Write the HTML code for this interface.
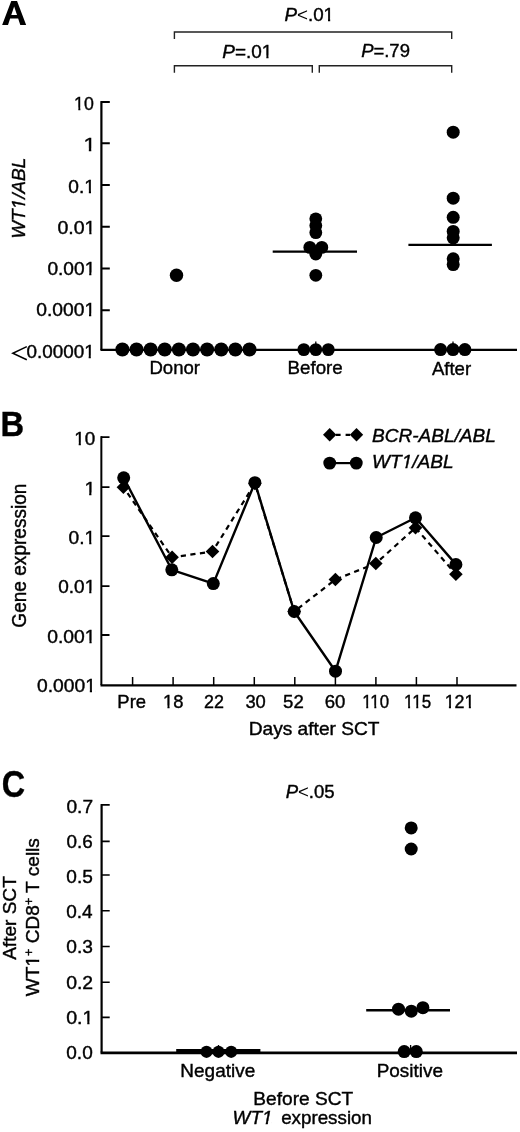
<!DOCTYPE html>
<html><head><meta charset="utf-8">
<style>
html,body{margin:0;padding:0;background:#fff;width:520px;height:1132px;overflow:hidden;}
svg{display:block;will-change:transform;}
text{font-family:"Liberation Sans",sans-serif;fill:#000;stroke:#000;stroke-width:0.4px;font-size:18.5px;}
.b{font-weight:bold;font-size:35px;}
.i{font-style:italic;}
.n0{stroke-width:0;}
</style></head>
<body>
<svg width="520" height="1132" viewBox="0 0 520 1132">
<!-- ===== PANEL A ===== -->
<path fill-rule="evenodd" fill="#000" d="M2.15,24.9 L11.25,0.9 L17.05,0.9 L26.15,24.9 L20.3,24.9 L18.16,18.5 L10.14,18.5 L8,24.9 Z M14.15,6.5 L17.02,15.1 L11.28,15.1 Z"/>
<g stroke="#222" stroke-width="1.4" fill="none">
<path d="M174.4,39 V32 H451.7 V39"/>
<path d="M174.4,72.8 V65.7 H312.3 V72.8"/>
<path d="M319.3,72.8 V65.7 H451.7 V72.8"/>
</g>
<g stroke="#000" fill="none" stroke-width="2.2">
<path d="M101.4,101.1 V350"/>
<path d="M100.5,349.9 H517"/>
</g>
<g stroke="#000" fill="none" stroke-width="2">
<path d="M101,102.1 H109.8 M101,143.2 H109.8 M101,185 H109.8 M101,226.8 H109.8 M101,268.4 H109.8 M101,310.3 H109.8"/>

</g>
<polyline points="26.8,346.6 12.8,353.2 26.8,359.8" fill="none" stroke="#000" stroke-width="1.5"/>
<g fill="#000">
<circle cx="122.40" cy="349.5" r="7.05"/><circle cx="136.52" cy="349.5" r="7.05"/><circle cx="150.64" cy="349.5" r="7.05"/><circle cx="164.76" cy="349.5" r="7.05"/><circle cx="178.88" cy="349.5" r="7.05"/><circle cx="193.00" cy="349.5" r="7.05"/><circle cx="207.12" cy="349.5" r="7.05"/><circle cx="221.24" cy="349.5" r="7.05"/><circle cx="235.36" cy="349.5" r="7.05"/><circle cx="249.48" cy="349.5" r="7.05"/>
<circle cx="176.5" cy="275.2" r="6.7"/>
<circle cx="315.8" cy="218.8" r="6.4"/><circle cx="315.8" cy="225.6" r="6.4"/><circle cx="315.8" cy="232.6" r="6.4"/>
<circle cx="309.8" cy="247.4" r="6.4"/><circle cx="321.8" cy="247.4" r="6.4"/><circle cx="315.8" cy="254" r="6.4"/>
<circle cx="315.8" cy="275.3" r="6.4"/>
<circle cx="303.8" cy="349.6" r="6.4"/><circle cx="315.8" cy="349.6" r="6.4"/><circle cx="328.3" cy="349.6" r="6.4"/>
<circle cx="453.2" cy="132.2" r="6.5"/><circle cx="453.2" cy="198.2" r="6.5"/><circle cx="453.2" cy="217.3" r="6.5"/>
<circle cx="453.2" cy="231.4" r="6.5"/><circle cx="453.2" cy="237.8" r="6.5"/><circle cx="453.2" cy="258.8" r="6.5"/>
<circle cx="453.2" cy="264.6" r="6.5"/>
<circle cx="440.6" cy="349.6" r="6.5"/><circle cx="453" cy="349.6" r="6.5"/><circle cx="464.9" cy="349.6" r="6.5"/>
</g>
<g stroke="#000" fill="none" stroke-width="2.3">
<path d="M272.7,251.6 H357"/>
<path d="M408.4,244.8 H491.9"/>
</g>
<g stroke="#000" fill="none" stroke-width="1.3"><path d="M315.8,349 V341.5 M453,349 V341.5 M218.5,1052 V1045 M410.6,1052 V1045"/></g>
<!-- ===== PANEL B ===== -->
<g stroke="#000" fill="none" stroke-width="2">
<path d="M101.35,436.2 V685"/>
<path d="M100.5,685.4 H516.5" stroke-width="2.4"/>
</g>
<g stroke="#000" fill="none" stroke-width="1.8">
<path d="M101,437.1 H109.5 M101,487.2 H109.5 M101,536.1 H109.5 M101,586.2 H109.5 M101,635 H109.5"/>
</g>
<g stroke="#000" fill="none" stroke-width="1.5">
<path d="M132.6,685 V677 M173.1,685 V677 M213.7,685 V677 M254.3,685 V677 M294.8,685 V677 M335.4,685 V677 M375.9,685 V677 M416.4,685 V677 M457,685 V677"/>
</g>
<polyline fill="none" stroke="#000" stroke-width="2.2" stroke-dasharray="5.2 4.45" stroke-dashoffset="2.45" stroke-linejoin="round" points="123.4,487.3 172.1,557.3 212.5,551.5 254.9,483.5 294.2,611.5 335.4,579.5 375.8,563.5 415.5,527.7 455.9,574.3"/>
<polyline fill="none" stroke="#000" stroke-width="2.4" stroke-linejoin="round" points="123.7,477.8 171.8,569.8 213.3,583.6 254.9,482.7 294.2,611.5 335.5,671.2 376.2,537.5 415.5,517.8 455.9,564.4"/>
<g fill="#000">
<path d="M0,-6.8 L6.8,0 L0,6.8 L-6.8,0 Z" transform="translate(123.4,487.3)"/>
<path d="M0,-6.8 L6.8,0 L0,6.8 L-6.8,0 Z" transform="translate(172.1,557.3)"/>
<path d="M0,-6.8 L6.8,0 L0,6.8 L-6.8,0 Z" transform="translate(212.5,551.5)"/>
<path d="M0,-6.8 L6.8,0 L0,6.8 L-6.8,0 Z" transform="translate(254.9,483.5)"/>
<path d="M0,-6.8 L6.8,0 L0,6.8 L-6.8,0 Z" transform="translate(294.2,611.5)"/>
<path d="M0,-6.8 L6.8,0 L0,6.8 L-6.8,0 Z" transform="translate(335.4,579.5)"/>
<path d="M0,-6.8 L6.8,0 L0,6.8 L-6.8,0 Z" transform="translate(375.8,563.5)"/>
<path d="M0,-6.8 L6.8,0 L0,6.8 L-6.8,0 Z" transform="translate(415.5,527.7)"/>
<path d="M0,-6.8 L6.8,0 L0,6.8 L-6.8,0 Z" transform="translate(455.9,574.3)"/>
<circle cx="123.7" cy="477.8" r="6.5"/><circle cx="171.8" cy="569.8" r="6.5"/><circle cx="213.3" cy="583.6" r="6.5"/>
<circle cx="254.9" cy="482.7" r="6.5"/><circle cx="294.2" cy="611.5" r="6.5"/><circle cx="335.5" cy="671.2" r="6.5"/>
<circle cx="376.2" cy="537.5" r="6.5"/><circle cx="415.5" cy="517.8" r="6.5"/><circle cx="455.9" cy="564.5" r="6.5"/>
</g>
<g fill="#000">
<path d="M0,-6.7 L6.7,0 L0,6.7 L-6.7,0 Z" transform="translate(329.7,434.8)"/>
<path d="M0,-6.7 L6.7,0 L0,6.7 L-6.7,0 Z" transform="translate(356.5,434.8)"/>
<circle cx="329.7" cy="463.1" r="6.4"/><circle cx="356.3" cy="463.1" r="6.4"/>
</g>
<g stroke="#000" fill="none" stroke-width="2.2">
<path d="M336,434.8 H340.6 M345.6,434.8 H350"/>
<path d="M330,463.1 H356"/>
</g>
<!-- ===== PANEL C ===== -->
<g stroke="#000" fill="none" stroke-width="2.2">
<path d="M101.6,804.1 V1052.5"/>
</g>
<g stroke="#000" fill="none" stroke-width="2.6">
<path d="M100.5,1052.9 H517"/>
</g>
<g stroke="#000" fill="none" stroke-width="1.6">
<path d="M101,804.9 H109.7 M101,841.4 H109.7 M101,875 H109.7 M101,910.7 H109.7 M101,946.5 H109.7 M101,982.2 H109.7 M101,1017.4 H109.7"/>

</g>
<g stroke="#000" fill="none" stroke-width="3">
<path d="M176.2,1050.5 H260.4"/>
</g>
<g stroke="#000" fill="none" stroke-width="2.4">
<path d="M366.2,1010.2 H450"/>
</g>
<g fill="#000">
<circle cx="206.5" cy="1051.8" r="6.1"/><circle cx="218.5" cy="1051.8" r="6.1"/><circle cx="231.2" cy="1051.8" r="6.1"/>
<circle cx="411.2" cy="827.9" r="6.5"/><circle cx="411.2" cy="849" r="6.5"/>
<circle cx="398.5" cy="1009.2" r="6.5"/><circle cx="411.3" cy="1011.2" r="6.5"/><circle cx="422.9" cy="1007.7" r="6.5"/>
<circle cx="404.2" cy="1051.6" r="6.5"/><circle cx="416.3" cy="1051.6" r="6.5"/>
</g>
<text id="t_B" class="b" textLength="23.61" lengthAdjust="spacingAndGlyphs" x="0.60" y="436.00">B</text>
<text id="t_C" class="b" style="font-size:36.5px" textLength="23.37" lengthAdjust="spacingAndGlyphs" x="1.87" y="797.00">C</text>
<text id="t_Pt" textLength="49.57" lengthAdjust="spacingAndGlyphs" x="284.44" y="21.00"><tspan class="i">P</tspan><tspan class="n0">&lt;</tspan>.01</text>
<text id="t_P1" textLength="50.05" lengthAdjust="spacingAndGlyphs" x="222.33" y="58.00"><tspan class="i">P</tspan>=.01</text>
<text id="t_P2" textLength="48.80" lengthAdjust="spacingAndGlyphs" x="361.13" y="57.00"><tspan class="i">P</tspan>=.79</text>
<text id="t_a10" textLength="19.71" lengthAdjust="spacingAndGlyphs" x="74.10" y="110.00">10</text>
<text id="t_a1" textLength="12.33" lengthAdjust="spacingAndGlyphs" x="83.50" y="151.00">1</text>
<text id="t_a01" textLength="26.61" lengthAdjust="spacingAndGlyphs" x="68.31" y="193.00">0.1</text>
<text id="t_a001" textLength="38.08" lengthAdjust="spacingAndGlyphs" x="57.43" y="234.00">0.01</text>
<text id="t_a0001" textLength="47.86" lengthAdjust="spacingAndGlyphs" x="47.42" y="275.00">0.001</text>
<text id="t_a00001" textLength="58.94" lengthAdjust="spacingAndGlyphs" x="36.24" y="316.00">0.0001</text>
<text id="t_a000001" textLength="68.15" lengthAdjust="spacingAndGlyphs" x="26.50" y="358.00">0.00001</text>
<text id="t_aylab" class="i" textLength="80.93" lengthAdjust="spacingAndGlyphs" transform="translate(25.00,238.77) rotate(-90)">WT1/ABL</text>
<text id="t_donor" textLength="50.58" lengthAdjust="spacingAndGlyphs" x="149.40" y="374.00">Donor</text>
<text id="t_before" textLength="55.21" lengthAdjust="spacingAndGlyphs" x="287.59" y="374.00">Before</text>
<text id="t_after" textLength="39.22" lengthAdjust="spacingAndGlyphs" x="431.88" y="375.00">After</text>
<text id="t_b10" textLength="20.98" lengthAdjust="spacingAndGlyphs" x="74.20" y="445.00">10</text>
<text id="t_b1" textLength="11.07" lengthAdjust="spacingAndGlyphs" x="84.41" y="495.00">1</text>
<text id="t_b01" textLength="26.67" lengthAdjust="spacingAndGlyphs" x="68.64" y="544.00">0.1</text>
<text id="t_b001" textLength="37.01" lengthAdjust="spacingAndGlyphs" x="58.28" y="593.00">0.01</text>
<text id="t_b0001" textLength="48.32" lengthAdjust="spacingAndGlyphs" x="47.24" y="643.00">0.001</text>
<text id="t_b00001" textLength="58.89" lengthAdjust="spacingAndGlyphs" x="37.06" y="692.00">0.0001</text>
<text id="t_xPre" textLength="28.68" lengthAdjust="spacingAndGlyphs" x="117.36" y="708.00">Pre</text>
<text id="t_x18" textLength="20.41" lengthAdjust="spacingAndGlyphs" x="163.07" y="708.00">18</text>
<text id="t_x22" textLength="19.92" lengthAdjust="spacingAndGlyphs" x="204.04" y="708.00">22</text>
<text id="t_x30" textLength="20.43" lengthAdjust="spacingAndGlyphs" x="245.41" y="708.00">30</text>
<text id="t_x52" textLength="20.69" lengthAdjust="spacingAndGlyphs" x="283.04" y="708.00">52</text>
<text id="t_x60" textLength="20.70" lengthAdjust="spacingAndGlyphs" x="324.74" y="708.00">60</text>
<text id="t_x110" textLength="26.79" lengthAdjust="spacingAndGlyphs" x="362.25" y="708.00">110</text>
<text id="t_x115" textLength="27.00" lengthAdjust="spacingAndGlyphs" x="404.09" y="708.00">115</text>
<text id="t_x121" textLength="29.91" lengthAdjust="spacingAndGlyphs" x="444.64" y="708.00">121</text>
<text id="t_days" textLength="130.83" lengthAdjust="spacingAndGlyphs" x="248.68" y="735.00">Days after SCT</text>
<text id="t_gene" style="font-size:19.5px" textLength="144.14" lengthAdjust="spacingAndGlyphs" transform="translate(26.00,627.69) rotate(-90)">Gene expression</text>
<text id="t_lg1" class="i" textLength="123.91" lengthAdjust="spacingAndGlyphs" x="371.98" y="442.00">BCR-ABL/ABL</text>
<text id="t_lg2" class="i" textLength="81.66" lengthAdjust="spacingAndGlyphs" x="372.01" y="468.00">WT1/ABL</text>
<text id="t_c07" textLength="26.57" lengthAdjust="spacingAndGlyphs" x="66.45" y="813.00">0.7</text>
<text id="t_c06" textLength="26.21" lengthAdjust="spacingAndGlyphs" x="66.45" y="848.00">0.6</text>
<text id="t_c05" textLength="26.49" lengthAdjust="spacingAndGlyphs" x="66.36" y="883.00">0.5</text>
<text id="t_c04" textLength="26.38" lengthAdjust="spacingAndGlyphs" x="66.28" y="918.00">0.4</text>
<text id="t_c03" textLength="26.65" lengthAdjust="spacingAndGlyphs" x="66.29" y="953.00">0.3</text>
<text id="t_c02" textLength="26.97" lengthAdjust="spacingAndGlyphs" x="66.18" y="989.00">0.2</text>
<text id="t_c01" textLength="27.28" lengthAdjust="spacingAndGlyphs" x="66.20" y="1024.00">0.1</text>
<text id="t_c00" textLength="26.45" lengthAdjust="spacingAndGlyphs" x="66.29" y="1059.00">0.0</text>
<text id="t_Pc" textLength="49.04" lengthAdjust="spacingAndGlyphs" x="285.65" y="798.00"><tspan class="i">P</tspan><tspan class="n0">&lt;</tspan>.05</text>
<text id="t_neg" textLength="74.83" lengthAdjust="spacingAndGlyphs" x="180.39" y="1077.00">Negative</text>
<text id="t_pos" textLength="66.26" lengthAdjust="spacingAndGlyphs" x="376.73" y="1077.00">Positive</text>
<text id="t_bsct" textLength="99.79" lengthAdjust="spacingAndGlyphs" x="253.39" y="1105.00">Before SCT</text>
<text id="t_wt1e" class="i" textLength="40.02" lengthAdjust="spacingAndGlyphs" x="232.62" y="1124.00">WT1</text>
<text id="t_expr" textLength="90.80" lengthAdjust="spacingAndGlyphs" x="281.15" y="1124.00">expression</text>
<text id="t_asct" textLength="83.64" lengthAdjust="spacingAndGlyphs" transform="translate(16.00,959.86) rotate(-90)">After SCT</text>
<text id="t_wcd8" textLength="158.12" lengthAdjust="spacingAndGlyphs" transform="translate(39.00,996.19) rotate(-90)">WT1<tspan dy="-6.5" font-size="12">+</tspan><tspan dy="6.5"> CD8</tspan><tspan dy="-6.5" font-size="12">+</tspan><tspan dy="6.5"> T cells</tspan></text>
<g fill="#fff"><polygon points="324.00,22.40 328.03,22.40 328.03,18.62 324.00,18.62"/><polygon points="330.19,22.40 333.99,22.40 333.99,18.62 330.19,18.62"/></g>
<g fill="#fff"><polygon points="262.26,59.40 266.33,59.40 266.33,55.62 262.26,55.62"/><polygon points="268.51,59.40 272.33,59.40 272.33,55.62 268.51,55.62"/></g>
<g fill="#fff"><polygon points="74.45,111.40 78.31,111.40 78.31,107.62 74.45,107.62"/><polygon points="80.37,111.40 83.99,111.40 83.99,107.62 80.37,107.62"/></g>
<g fill="#fff"><polygon points="84.19,152.40 88.82,152.40 88.82,148.62 84.19,148.62"/><polygon points="91.28,152.40 95.64,152.40 95.64,148.62 91.28,148.62"/></g>
<g fill="#fff"><polygon points="84.72,194.40 88.83,194.40 88.83,190.62 84.72,190.62"/><polygon points="91.02,194.40 94.88,194.40 94.88,190.62 91.02,190.62"/></g>
<g fill="#fff"><polygon points="85.10,235.40 89.28,235.40 89.28,231.62 85.10,231.62"/><polygon points="91.50,235.40 95.43,235.40 95.43,231.62 91.50,231.62"/></g>
<g fill="#fff"><polygon points="85.09,276.40 89.19,276.40 89.19,272.62 85.09,272.62"/><polygon points="91.38,276.40 95.24,276.40 95.24,272.62 91.38,272.62"/></g>
<g fill="#fff"><polygon points="84.91,317.40 89.03,317.40 89.03,313.62 84.91,313.62"/><polygon points="91.24,317.40 95.11,317.40 95.11,313.62 91.24,313.62"/></g>
<g fill="#fff"><polygon points="84.59,359.40 88.65,359.40 88.65,355.62 84.59,355.62"/><polygon points="90.81,359.40 94.62,359.40 94.62,355.62 90.81,355.62"/></g>
<g fill="#fff" transform="translate(25.00,238.77) rotate(-90)"><polygon points="28.60,1.40 32.67,1.40 33.42,-2.38 29.35,-2.38"/><polygon points="34.84,1.40 38.15,1.40 38.91,-2.38 35.59,-2.38"/></g>
<g fill="#fff"><polygon points="74.64,446.40 78.69,446.40 78.69,442.62 74.64,442.62"/><polygon points="80.86,446.40 84.67,446.40 84.67,442.62 80.86,442.62"/></g>
<g fill="#fff"><polygon points="84.92,496.40 89.16,496.40 89.16,492.62 84.92,492.62"/><polygon points="91.42,496.40 95.40,496.40 95.40,492.62 91.42,492.62"/></g>
<g fill="#fff"><polygon points="85.09,545.40 89.21,545.40 89.21,541.62 85.09,541.62"/><polygon points="91.40,545.40 95.26,545.40 95.26,541.62 91.40,541.62"/></g>
<g fill="#fff"><polygon points="85.14,594.40 89.22,594.40 89.22,590.62 85.14,590.62"/><polygon points="91.40,594.40 95.24,594.40 95.24,590.62 91.40,590.62"/></g>
<g fill="#fff"><polygon points="85.28,644.40 89.42,644.40 89.42,640.62 85.28,640.62"/><polygon points="91.63,644.40 95.51,644.40 95.51,640.62 91.63,640.62"/></g>
<g fill="#fff"><polygon points="85.69,693.40 89.81,693.40 89.81,689.62 85.69,689.62"/><polygon points="92.01,693.40 95.89,693.40 95.89,689.62 92.01,689.62"/></g>
<g fill="#fff"><polygon points="163.47,709.40 167.43,709.40 167.43,705.62 163.47,705.62"/><polygon points="169.56,709.40 173.28,709.40 173.28,705.62 169.56,705.62"/></g>
<g fill="#fff"><polygon points="362.53,709.40 366.22,709.40 366.22,705.62 362.53,705.62"/><polygon points="368.21,709.40 371.67,709.40 371.67,705.62 368.21,705.62"/><polygon points="370.62,709.40 374.31,709.40 374.31,705.62 370.62,705.62"/><polygon points="376.30,709.40 379.76,709.40 379.76,705.62 376.30,705.62"/></g>
<g fill="#fff"><polygon points="404.38,709.40 408.10,709.40 408.10,705.62 404.38,705.62"/><polygon points="410.09,709.40 413.58,709.40 413.58,705.62 410.09,705.62"/><polygon points="412.53,709.40 416.25,709.40 416.25,705.62 412.53,705.62"/><polygon points="418.25,709.40 421.73,709.40 421.73,705.62 418.25,705.62"/></g>
<g fill="#fff"><polygon points="445.01,709.40 448.90,709.40 448.90,705.62 445.01,705.62"/><polygon points="450.98,709.40 454.63,709.40 454.63,705.62 450.98,705.62"/><polygon points="464.92,709.40 468.82,709.40 468.82,705.62 464.92,705.62"/><polygon points="470.90,709.40 474.55,709.40 474.55,705.62 470.90,705.62"/></g>
<g fill="#fff"><polygon points="400.88,469.40 404.97,469.40 405.73,465.62 401.64,465.62"/><polygon points="407.16,469.40 410.50,469.40 411.26,465.62 407.92,465.62"/></g>
<g fill="#fff"><polygon points="83.05,1025.40 87.24,1025.40 87.24,1021.62 83.05,1021.62"/><polygon points="89.48,1025.40 93.41,1025.40 93.41,1021.62 89.48,1021.62"/></g>
<g fill="#fff"><polygon points="261.29,1125.40 265.36,1125.40 266.12,1121.62 262.04,1121.62"/><polygon points="267.54,1125.40 270.86,1125.40 271.61,1121.62 268.29,1121.62"/></g>
<g fill="#fff" transform="translate(39.00,996.19) rotate(-90)"><polygon points="30.13,1.40 34.23,1.40 34.23,-2.38 30.13,-2.38"/><polygon points="36.42,1.40 40.27,1.40 40.27,-2.38 36.42,-2.38"/></g>
</svg>
</body></html>
